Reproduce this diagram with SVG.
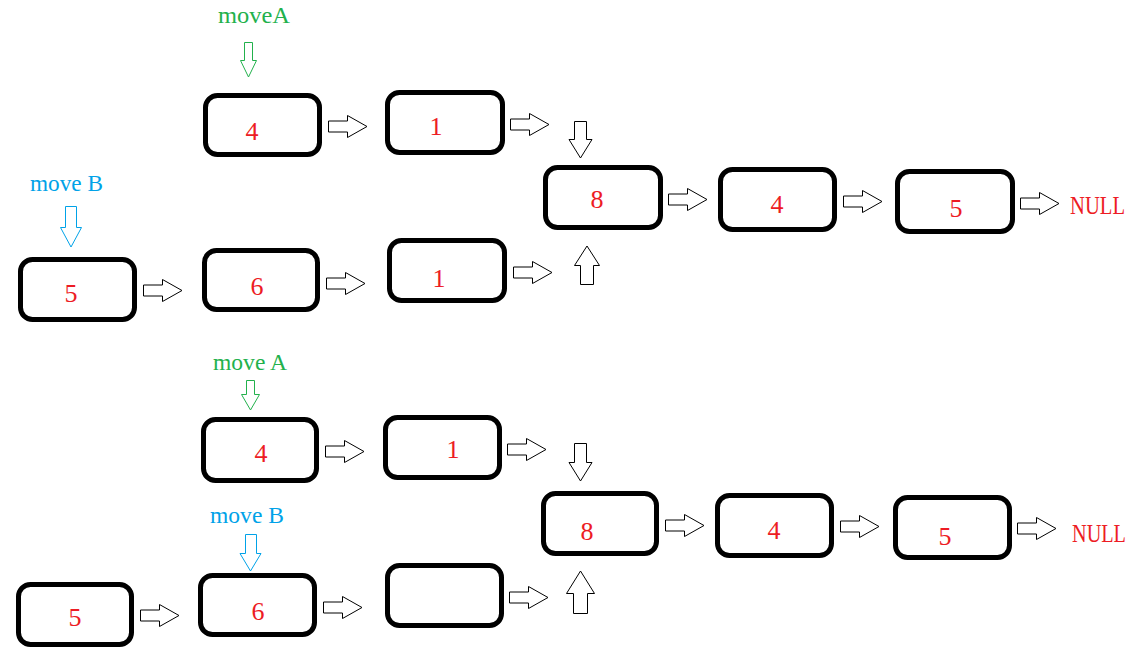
<svg xmlns="http://www.w3.org/2000/svg" xmlns:xlink="http://www.w3.org/1999/xlink" width="1146" height="655" viewBox="0 0 1146 655">
<style>
.box{fill:#fff;stroke:#000;stroke-width:5}
.num{font-family:"Liberation Serif","Times New Roman",serif;font-size:26px;fill:#ED1C24;text-anchor:middle}
.null{font-family:"Liberation Serif","Times New Roman",serif;font-size:25px;fill:#ED1C24}
.lblA{font-family:"Liberation Serif","Times New Roman",serif;font-size:23px;fill:#22B14C}
.lblB{font-family:"Liberation Serif","Times New Roman",serif;font-size:23px;fill:#00A2E8}
.arr{fill:#fff;stroke:#000;stroke-width:1}
.garr{fill:#fff;stroke:#22B14C;stroke-width:1}
.barr{fill:#fff;stroke:#00A2E8;stroke-width:1}
</style>
<defs>
<path id="ar" d="M0.5,-5.5 H19.5 V-11 L39,0 L19.5,11 V5.5 H0.5 Z"/>
</defs>
<rect width="1146" height="655" fill="#fff"/>

<g id="labels">
<text class="lblA" x="218" y="23" textLength="72" lengthAdjust="spacingAndGlyphs">moveA</text>
<path class="garr" d="M244.5,42.5 H252.5 V60.5 H256.5 L248.5,77 L240.5,60.5 H244.5 Z"/>
<text class="lblB" x="30" y="191" textLength="73" lengthAdjust="spacingAndGlyphs">move B</text>
<path class="barr" d="M65.5,206.5 H76.5 V227.5 H81.5 L71,247 L60.5,227.5 H65.5 Z"/>
<text class="lblA" x="213" y="370" textLength="74" lengthAdjust="spacingAndGlyphs">move A</text>
<path class="garr" d="M246.5,380.5 H254.5 V394.5 H259.5 L250.5,410 L241.5,394.5 H246.5 Z"/>
<text class="lblB" x="210" y="523" textLength="74" lengthAdjust="spacingAndGlyphs">move B</text>
<path class="barr" d="M245.5,534.5 H256.5 V553.5 H261 L250.5,571 L240,553.5 H245.5 Z"/>
<text class="null" x="1070" y="214" textLength="55" lengthAdjust="spacingAndGlyphs">NULL</text>
<text class="null" x="1072" y="542" textLength="54" lengthAdjust="spacingAndGlyphs">NULL</text>
</g>

<g id="top-a1"><rect class="box" x="205.5" y="95.5" width="114" height="59" rx="12"/><text class="num" x="252" y="140">4</text></g>
<g id="top-a2"><rect class="box" x="387.5" y="92.5" width="115" height="60" rx="12"/><text class="num" x="436" y="135">1</text></g>
<g id="top-b1"><rect class="box" x="20.5" y="259.5" width="114" height="60" rx="12"/><text class="num" x="71" y="302">5</text></g>
<g id="top-b2"><rect class="box" x="204.5" y="250.5" width="113" height="59" rx="12"/><text class="num" x="257" y="295">6</text></g>
<g id="top-b3"><rect class="box" x="389.5" y="240.5" width="115" height="60" rx="12"/><text class="num" x="439" y="287">1</text></g>
<g id="top-c1"><rect class="box" x="545.5" y="167.5" width="115" height="60" rx="12"/><text class="num" x="597" y="208">8</text></g>
<g id="top-c2"><rect class="box" x="720.5" y="169.5" width="114" height="60" rx="12"/><text class="num" x="777" y="213">4</text></g>
<g id="top-c3"><rect class="box" x="897.5" y="171.5" width="115" height="60" rx="12"/><text class="num" x="956" y="217">5</text></g>

<g id="bot-a1"><rect class="box" x="203.5" y="419.5" width="113" height="61" rx="12"/><text class="num" x="261" y="462">4</text></g>
<g id="bot-a2"><rect class="box" x="385.5" y="417.5" width="114" height="60" rx="12"/><text class="num" x="453" y="458">1</text></g>
<g id="bot-b1"><rect class="box" x="18.5" y="584.5" width="113" height="60" rx="12"/><text class="num" x="75" y="626">5</text></g>
<g id="bot-b2"><rect class="box" x="200.5" y="575.5" width="114" height="59" rx="12"/><text class="num" x="258" y="620">6</text></g>
<g id="bot-b3"><rect class="box" x="387.5" y="565.5" width="114" height="60" rx="12"/></g>
<g id="bot-c1"><rect class="box" x="543.5" y="493.5" width="113" height="60" rx="12"/><text class="num" x="587" y="540">8</text></g>
<g id="bot-c2"><rect class="box" x="717.5" y="495.5" width="114" height="60" rx="12"/><text class="num" x="774" y="539">4</text></g>
<g id="bot-c3"><rect class="box" x="895.5" y="497.5" width="114" height="60" rx="12"/><text class="num" x="945" y="545">5</text></g>

<g id="connectors">
<use xlink:href="#ar" class="arr" x="328" y="126.5"/>
<use xlink:href="#ar" class="arr" x="510" y="124.5"/>
<use xlink:href="#ar" class="arr" x="143" y="290.5"/>
<use xlink:href="#ar" class="arr" x="326" y="283.5"/>
<use xlink:href="#ar" class="arr" x="513" y="272.5"/>
<use xlink:href="#ar" class="arr" x="668" y="199.5"/>
<use xlink:href="#ar" class="arr" x="843" y="201.5"/>
<use xlink:href="#ar" class="arr" x="1020" y="203.5"/>
<use xlink:href="#ar" class="arr" x="325" y="451.5"/>
<use xlink:href="#ar" class="arr" x="507" y="449.5"/>
<use xlink:href="#ar" class="arr" x="140" y="615.5"/>
<use xlink:href="#ar" class="arr" x="323" y="607.5"/>
<use xlink:href="#ar" class="arr" x="509" y="597.5"/>
<use xlink:href="#ar" class="arr" x="665" y="525.5"/>
<use xlink:href="#ar" class="arr" x="840" y="526.5"/>
<use xlink:href="#ar" class="arr" x="1017" y="528.5"/>
<path class="arr" d="M574.5,121.5 H586.5 V139.5 H592 L580.5,158 L569,139.5 H574.5 Z"/>
<path class="arr" d="M580.5,284.5 V265.5 H574.5 L587,246 L599.5,265.5 H593.5 V284.5 Z"/>
<path class="arr" d="M574.5,443.5 H586.5 V462.5 H592 L580.5,481 L569,462.5 H574.5 Z"/>
<path class="arr" d="M573.5,613.5 V593.5 H566.5 L580.5,571 L594.5,593.5 H587.5 V613.5 Z"/>
</g>
</svg>
